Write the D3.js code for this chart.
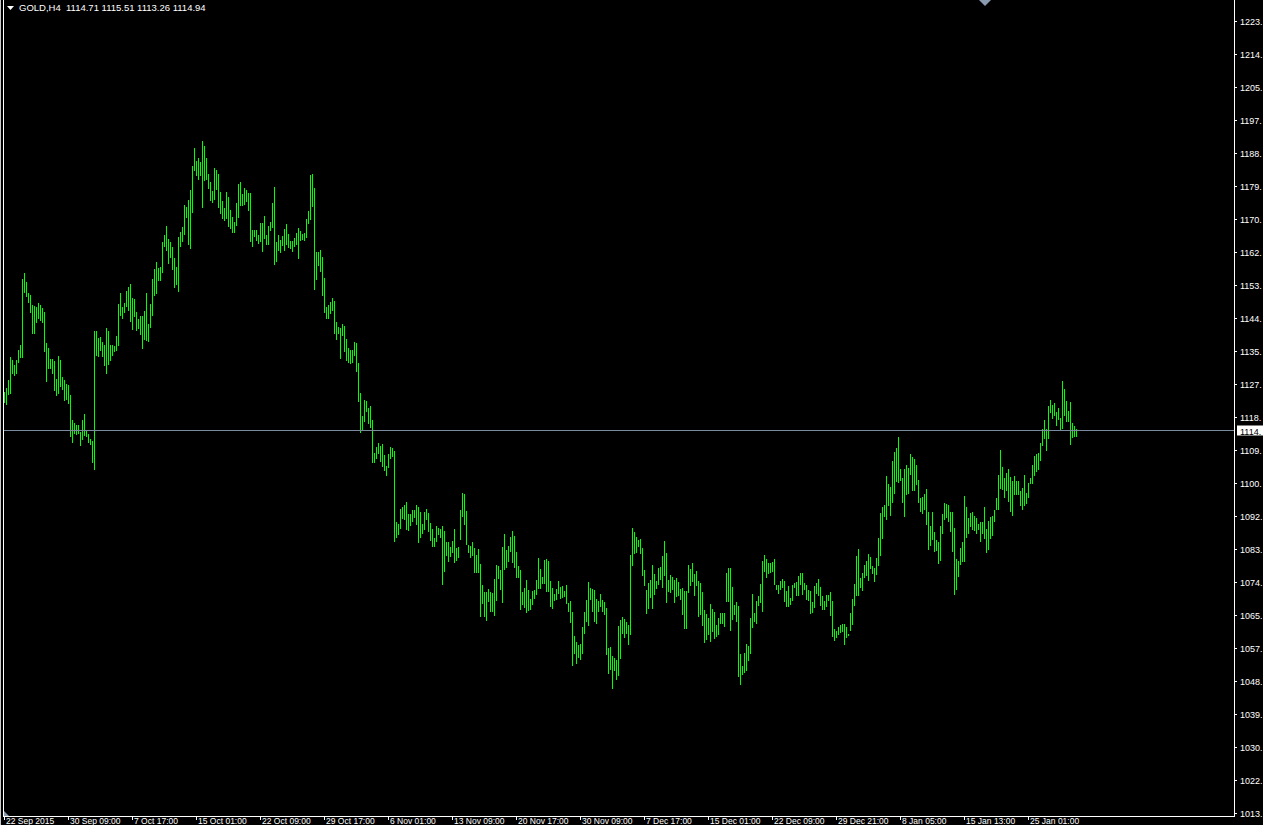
<!DOCTYPE html>
<html>
<head>
<meta charset="utf-8">
<script src="https://cdn.jsdelivr.net/npm/d3@7"></script>
<style>
  html, body { margin: 0; padding: 0; background: #000; overflow: hidden; }
  text { font-family: "Liberation Sans", Arial, sans-serif; white-space: pre; }
</style>
</head>
<body>
<div id="chart"></div>
<script>
let symbol = "GOLD,H4";
let lastOHLC = [1114.71, 1115.51, 1113.26, 1114.94];

// H4 bar highs / lows, oldest first
let highs = [
  1125.3,1126.2,1128.4,1134.4,1133.7,1132.3,1133.7,1136.3,1137.7,1155.2,
  1156.7,1154.4,1151.4,1150.9,1148.3,1148.0,1147.8,1148.7,1148.3,1147.4,
  1146.4,1138.1,1136.8,1134.0,1133.9,1133.3,1128.6,1134.8,1133.7,1129.1,
  1128.4,1127.3,1127.0,1124.4,1117.9,1117.1,1116.4,1116.4,1114.7,1117.9,
  1119.4,1114.9,1114.0,1112.8,1112.1,1141.4,1141.4,1139.5,1139.7,1138.5,
  1137.6,1142.1,1141.4,1137.7,1137.7,1137.4,1140.1,1148.6,1151.4,1147.8,
  1148.8,1151.9,1153.0,1153.9,1150.2,1149.8,1146.4,1144.5,1145.4,1145.4,
  1146.7,1151.4,1143.2,1148.6,1155.2,1157.8,1159.7,1158.1,1158.4,1165.0,
  1166.8,1169.3,1165.9,1165.0,1163.8,1160.9,1158.5,1166.3,1167.7,1168.9,
  1174.8,1174.4,1176.2,1178.8,1185.2,1190.0,1186.4,1187.3,1186.3,1191.7,
  1190.5,1187.3,1183.2,1180.9,1178.6,1184.7,1184.1,1183.1,1178.3,1175.9,
  1174.0,1178.3,1177.0,1173.5,1171.7,1170.3,1175.3,1180.4,1180.9,1177.8,
  1179.4,1178.8,1178.1,1178.0,1168.2,1168.2,1168.2,1166.9,1170.1,1170.1,
  1171.9,1166.9,1169.3,1170.3,1175.4,1179.7,1165.0,1166.8,1165.5,1166.6,
  1168.5,1169.8,1167.1,1165.3,1165.3,1166.1,1167.4,1168.7,1167.9,1167.1,
  1167.4,1171.1,1173.2,1182.9,1183.1,1179.4,1162.4,1162.4,1162.9,1161.1,
  1155.5,1147.8,1148.4,1149.1,1150.1,1149.3,1143.8,1142.5,1142.2,1143.2,
  1142.7,1139.3,1136.9,1136.3,1136.3,1138.5,1138.2,1132.9,1124.9,1118.8,
  1123.1,1122.8,1120.9,1121.5,1117.8,1108.9,1110.6,1111.6,1110.9,1111.4,
  1108.5,1105.5,1108.7,1110.6,1110.3,1109.5,1090.7,1090.1,1094.1,1094.6,
  1095.2,1096.0,1092.8,1092.8,1093.9,1093.9,1095.2,1094.7,1093.3,1090.1,
  1093.3,1094.1,1093.1,1090.5,1088.8,1086.4,1089.6,1089.2,1088.8,1089.6,
  1088.3,1085.4,1085.4,1084.1,1085.6,1088.8,1083.8,1084.0,1093.9,1098.4,
  1098.1,1093.6,1084.6,1084.3,1085.4,1083.8,1081.9,1083.5,1079.5,1074.0,
  1072.1,1072.1,1072.9,1072.1,1071.8,1075.5,1079.3,1079.0,1077.9,1084.0,
  1087.5,1083.2,1084.3,1086.7,1088.3,1087.0,1082.7,1079.0,1077.9,1072.1,
  1073.3,1075.3,1072.6,1070.3,1072.4,1072.6,1075.3,1081.1,1078.2,1076.1,
  1080.6,1080.9,1080.3,1074.9,1073.2,1071.6,1072.9,1074.9,1073.5,1073.7,
  1072.3,1074.0,1069.2,1069.7,1066.8,1060.4,1058.8,1058.0,1058.3,1062.8,
  1066.8,1070.0,1074.8,1073.2,1072.9,1072.6,1070.2,1069.7,1071.6,1070.0,
  1069.4,1067.9,1057.2,1057.5,1055.1,1054.6,1054.0,1063.1,1064.7,1065.5,
  1064.9,1064.1,1063.4,1081.9,1089.1,1088.0,1086.7,1085.9,1086.2,1083.8,
  1077.9,1072.6,1074.4,1075.3,1079.3,1076.9,1075.0,1078.5,1078.8,1081.7,
  1085.6,1082.5,1075.3,1076.6,1076.1,1075.3,1075.8,1074.8,1072.9,1073.2,
  1072.5,1072.5,1079.3,1078.2,1079.8,1076.9,1077.7,1075.0,1074.5,1072.1,
  1067.3,1066.3,1065.2,1068.9,1067.6,1066.8,1063.3,1065.2,1066.5,1066.5,
  1066.5,1077.1,1078.5,1078.5,1073.4,1068.6,1069.4,1068.4,1055.6,1052.5,
  1055.9,1058.3,1057.8,1065.2,1071.6,1066.5,1069.7,1071.0,1074.2,1080.3,
  1081.9,1080.9,1079.8,1079.8,1080.1,1080.9,1074.0,1074.0,1075.0,1075.6,
  1075.0,1072.4,1073.7,1070.5,1074.0,1074.5,1074.8,1076.3,1077.1,1077.1,
  1074.5,1074.0,1072.6,1072.4,1069.4,1073.7,1074.5,1075.6,1073.4,1071.0,
  1069.7,1071.3,1071.3,1072.1,1069.7,1062.3,1061.7,1062.8,1063.3,1063.6,
  1063.6,1062.8,1060.9,1066.5,1070.2,1074.2,1081.7,1083.5,1075.8,1077.1,
  1079.3,1080.3,1082.2,1081.4,1079.0,1078.5,1081.1,1086.4,1093.1,1094.7,
  1095.2,1102.9,1100.8,1100.0,1106.9,1109.3,1110.3,1113.3,1104.8,1102.4,
  1104.8,1105.8,1105.0,1108.7,1107.9,1107.4,1105.8,1101.8,1097.1,1097.3,
  1098.1,1099.5,1093.3,1089.6,1093.3,1088.0,1085.9,1085.4,1089.6,1092.8,
  1095.7,1095.5,1095.2,1093.3,1093.3,1089.1,1080.9,1080.3,1083.8,1085.4,
  1097.6,1094.7,1091.7,1093.1,1093.3,1092.3,1091.7,1090.2,1090.7,1090.7,
  1094.7,1088.8,1091.0,1092.0,1092.3,1093.9,1097.1,1103.2,1109.8,1105.3,
  1102.4,1103.7,1104.8,1102.6,1101.6,1102.9,1101.6,1101.6,1098.9,1099.7,
  1103.2,1098.4,1101.0,1102.4,1105.8,1108.2,1108.7,1109.0,1111.7,1115.4,
  1117.8,1115.4,1121.5,1123.1,1121.8,1122.3,1119.9,1121.0,1118.3,1128.1,
  1126.0,1122.8,1120.2,1122.5,1117.0,1116.2,1115.51
];

let lows = [
  1122.4,1121.7,1124.4,1124.7,1130.0,1129.4,1130.0,1133.0,1134.2,1134.2,
  1151.4,1150.5,1148.9,1146.3,1140.6,1140.6,1143.6,1144.5,1144.1,1143.6,
  1135.9,1127.9,1131.4,1131.2,1130.0,1125.5,1124.2,1124.8,1126.4,1125.7,
  1122.9,1123.1,1122.0,1113.2,1111.7,1114.0,1113.8,1114.0,1111.0,1112.4,
  1113.5,1113.2,1111.7,1111.1,1106.3,1104.6,1134.8,1134.6,1136.2,1134.4,
  1132.2,1130.0,1132.3,1133.4,1134.8,1135.9,1136.2,1137.4,1145.4,1144.7,
  1146.3,1147.8,1146.7,1143.9,1141.7,1145.0,1141.5,1141.8,1140.4,1136.7,
  1138.9,1138.8,1138.5,1142.2,1145.4,1150.7,1151.2,1154.8,1154.8,1156.9,
  1163.6,1162.5,1159.2,1160.8,1157.6,1152.8,1153.5,1151.7,1163.8,1165.0,
  1167.0,1171.4,1164.1,1163.2,1172.8,1183.8,1182.5,1181.5,1182.5,1174.0,
  1181.1,1181.5,1179.0,1176.0,1175.5,1176.2,1178.8,1174.1,1172.4,1171.2,
  1170.7,1171.0,1169.1,1168.6,1167.5,1167.3,1169.4,1171.4,1174.7,1174.6,
  1174.9,1175.6,1173.3,1165.1,1163.8,1166.3,1165.4,1164.5,1165.1,1162.4,
  1165.7,1164.3,1164.3,1168.0,1168.7,1159.0,1159.7,1162.7,1162.2,1164.0,
  1162.5,1164.3,1163.4,1163.1,1162.4,1163.6,1164.1,1160.6,1165.4,1165.5,
  1165.3,1166.1,1169.8,1170.9,1174.4,1152.3,1154.9,1158.6,1157.0,1150.7,
  1146.3,1144.7,1144.7,1145.9,1146.8,1140.6,1139.0,1140.6,1134.0,1140.1,
  1135.8,1133.4,1132.8,1132.6,1132.8,1134.7,1130.5,1122.5,1114.4,1115.1,
  1117.2,1119.9,1116.7,1115.6,1106.3,1106.3,1107.3,1108.7,1106.6,1105.4,
  1104.2,1102.9,1104.9,1107.3,1108.0,1085.4,1086.4,1087.2,1088.9,1091.6,
  1091.2,1088.5,1088.4,1089.6,1090.7,1091.7,1090.0,1085.1,1086.4,1087.5,
  1088.5,1091.2,1088.1,1085.7,1084.1,1084.1,1085.4,1087.2,1086.5,1074.0,
  1077.4,1081.7,1080.2,1081.3,1082.4,1079.7,1080.4,1081.1,1085.9,1092.1,
  1090.0,1084.6,1082.5,1081.1,1081.7,1077.2,1077.2,1077.2,1065.5,1068.9,
  1065.5,1064.5,1069.4,1066.8,1066.9,1065.7,1069.8,1075.6,1072.6,1069.3,
  1077.9,1078.5,1080.1,1082.7,1079.7,1078.5,1075.8,1075.8,1067.3,1068.6,
  1067.9,1066.6,1067.1,1067.3,1068.6,1070.3,1071.3,1072.9,1072.9,1074.2,
  1074.2,1072.1,1072.1,1068.1,1067.6,1069.7,1070.0,1071.7,1070.2,1070.5,
  1070.7,1068.9,1066.8,1063.9,1052.5,1055.6,1053.0,1054.6,1054.0,1055.6,
  1060.9,1064.1,1063.1,1070.0,1066.8,1064.1,1063.6,1066.8,1068.1,1066.8,
  1065.9,1055.4,1050.3,1051.4,1046.3,1051.1,1048.7,1049.8,1054.3,1060.9,
  1059.9,1060.9,1058.0,1060.7,1079.0,1082.2,1082.5,1084.0,1082.2,1076.3,
  1073.7,1066.3,1067.6,1070.5,1067.6,1071.3,1072.9,1074.0,1075.3,1073.2,
  1076.3,1069.3,1072.1,1071.9,1072.6,1069.3,1070.9,1071.0,1070.0,1066.0,
  1062.4,1062.4,1071.9,1073.7,1074.8,1071.0,1073.7,1065.5,1066.0,1063.1,
  1058.6,1059.4,1060.7,1058.9,1061.5,1059.6,1060.2,1060.7,1063.6,1063.6,
  1062.9,1069.4,1069.4,1061.8,1064.7,1066.0,1064.1,1049.6,1047.5,1050.2,
  1050.7,1051.2,1053.8,1055.6,1062.5,1064.1,1063.6,1068.4,1069.2,1066.8,
  1077.4,1075.8,1076.9,1077.2,1077.4,1074.0,1072.6,1071.6,1072.6,1073.3,
  1069.4,1068.1,1068.1,1068.6,1069.8,1073.2,1071.0,1071.0,1074.0,1071.3,
  1072.6,1070.0,1069.7,1066.3,1066.5,1067.9,1071.6,1071.0,1068.4,1067.3,
  1067.3,1068.1,1069.7,1065.7,1060.2,1059.1,1059.9,1060.7,1061.2,1061.5,
  1058.1,1059.9,1060.4,1061.7,1063.3,1068.5,1071.0,1071.0,1073.2,1072.5,
  1075.8,1076.4,1075.1,1078.2,1076.9,1074.8,1076.6,1079.0,1081.7,1086.2,
  1092.0,1091.2,1094.9,1092.4,1095.7,1098.1,1101.3,1101.0,1101.6,1095.7,
  1092.0,1097.9,1098.1,1103.2,1098.9,1098.9,1100.5,1095.7,1093.3,1092.8,
  1093.9,1089.9,1083.3,1084.3,1085.9,1082.7,1083.0,1079.5,1080.3,1087.5,
  1091.2,1091.7,1090.7,1088.0,1082.7,1071.3,1072.6,1076.1,1079.3,1080.1,
  1080.1,1086.4,1087.5,1089.4,1088.6,1088.3,1087.5,1088.6,1085.4,1087.5,
  1086.2,1082.5,1083.3,1086.2,1087.0,1090.7,1093.9,1093.9,1099.5,1099.2,
  1097.1,1098.9,1096.0,1093.3,1092.3,1097.9,1097.9,1097.9,1094.9,1093.9,
  1094.9,1095.5,1097.1,1100.8,1100.8,1102.9,1104.0,1104.5,1106.9,1110.9,
  1112.7,1109.5,1112.7,1119.6,1118.0,1118.8,1116.2,1117.8,1114.8,1115.4,
  1118.8,1117.2,1117.2,1111.1,1113.0,1113.3,1113.26
];

let priceTicks = [
  1223.50,1214.74,1205.98,1197.22,1188.46,1179.70,1170.94,1162.18,1153.42,
  1144.66,1135.90,1127.14,1118.38,1109.62,1100.86,1092.10,1083.34,1074.58,
  1065.82,1057.06,1048.30,1039.54,1030.78,1022.02,1013.26
];

let timeLabels = [
  "22 Sep 2015","30 Sep 09:00","7 Oct 17:00","15 Oct 01:00","22 Oct 09:00",
  "29 Oct 17:00","6 Nov 01:00","13 Nov 09:00","20 Nov 17:00","30 Nov 09:00",
  "7 Dec 17:00","15 Dec 01:00","22 Dec 09:00","29 Dec 21:00","8 Jan 05:00",
  "15 Jan 13:00","25 Jan 01:00"
];
let barsPerLabel = 32;

let width = 1263, height = 825;
let axisX = 1234, axisY = 816;

// the price scale is too narrow for decimals, MT4 shows only "1223."
let shortPrice = function(v) { return Math.floor(v) + "."; };

let svg = d3.select("#chart").append("svg")
        .attr("width", width)
        .attr("height", height)
        .style("display", "block")
        .style("background", "#000");

let x = d3.scaleLinear()
        .domain([0, highs.length - 1])
        .range([4, 4 + 2 * (highs.length - 1)]);

let y = d3.scaleLinear()
        .domain([1013.26, 1223.50])
        .range([813.7, 21.7]);

// bars (high-low lines)
svg.append("g")
    .attr("shape-rendering", "crispEdges")
  .selectAll("rect")
    .data(highs)
    .enter()
    .append("rect")
      .attr("x", (d, i) => Math.round(x(i)))
      .attr("y", d => Math.round(y(d)))
      .attr("width", 1)
      .attr("height", (d, i) => Math.max(1, Math.round(y(lows[i])) - Math.round(y(d))))
      .attr("fill", "#00ff00");

// current price line
let lastPrice = lastOHLC[3];
let py = Math.floor(y(lastPrice)) + 0.5;
svg.append("line")
    .attr("x1", 3).attr("x2", axisX)
    .attr("y1", py).attr("y2", py)
    .attr("stroke", "#7a8ba0")
    .attr("stroke-width", 1);

// frame lines
svg.append("line")
    .attr("x1", 0.5).attr("x2", 0.5).attr("y1", 0).attr("y2", height)
    .attr("stroke", "#c8c8c8");
svg.append("line")
    .attr("x1", 3.5).attr("x2", 3.5).attr("y1", 0).attr("y2", axisY)
    .attr("stroke", "#fff");
svg.append("line")
    .attr("x1", axisX + 0.5).attr("x2", axisX + 0.5).attr("y1", 0).attr("y2", axisY + 1)
    .attr("stroke", "#fff");
svg.append("line")
    .attr("x1", 3).attr("x2", axisX + 1).attr("y1", axisY + 0.5).attr("y2", axisY + 0.5)
    .attr("stroke", "#fff");

// price axis
let yAxis = svg.append("g");
yAxis.selectAll("line")
    .data(priceTicks)
    .enter()
    .append("line")
      .attr("x1", axisX).attr("x2", axisX + 3)
      .attr("y1", d => Math.floor(y(d)) + 0.5)
      .attr("y2", d => Math.floor(y(d)) + 0.5)
      .attr("stroke", "#fff");
yAxis.selectAll("text")
    .data(priceTicks)
    .enter()
    .append("text")
      .attr("x", axisX + 6)
      .attr("y", d => Math.floor(y(d)) + 4)
      .attr("fill", "#fff")
      .style("font-size", "9px")
      .text(shortPrice);

// current price tag
svg.append("rect")
    .attr("x", axisX + 3).attr("y", py - 5)
    .attr("width", 40).attr("height", 10)
    .attr("fill", "#fff");
svg.append("text")
    .attr("x", axisX + 6).attr("y", py + 4)
    .attr("fill", "#000")
    .style("font-size", "9px")
    .text(shortPrice(lastPrice));

// time axis
let tAxis = svg.append("g");
tAxis.selectAll("line")
    .data(timeLabels)
    .enter()
    .append("line")
      .attr("x1", (d, i) => Math.round(x(i * barsPerLabel)) + 0.5)
      .attr("x2", (d, i) => Math.round(x(i * barsPerLabel)) + 0.5)
      .attr("y1", axisY).attr("y2", axisY + 4)
      .attr("stroke", "#fff");
tAxis.selectAll("text")
    .data(timeLabels)
    .enter()
    .append("text")
      .attr("x", (d, i) => Math.round(x(i * barsPerLabel)) + 2)
      .attr("y", axisY + 7.5)
      .attr("fill", "#fff")
      .style("font-size", "8.5px")
      .text(d => d);

// header
svg.append("path")
    .attr("d", "M7,6 L14,6 L10.5,10 Z")
    .attr("fill", "#fff");
svg.append("text")
    .attr("x", 19).attr("y", 11)
    .attr("fill", "#fff")
    .style("font-size", "9.5px")
    .text(symbol + "  " + lastOHLC.map(v => v.toFixed(2)).join(" "));

// shift markers
svg.append("path")
    .attr("d", "M979,0 L991,0 L985,6 Z")
    .attr("fill", "#8a9bb0");
svg.append("path")
    .attr("d", "M4,811 L4,816 L9,816 Z")
    .attr("fill", "#8a9bb0");
</script>
</body>
</html>
